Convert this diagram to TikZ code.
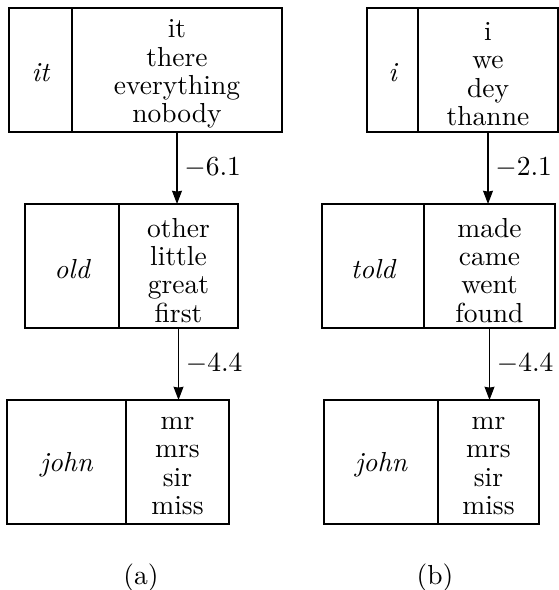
\documentclass[tikz,border=0pt]{standalone}
\usetikzlibrary{arrows.meta}
\begin{document}
\def\px{0.3636pt}
\begin{tikzpicture}[x=0.3636pt,y=-0.3636pt,
  cell/.style={draw, line width=0.4pt, inner sep=0pt, outer sep=0pt, minimum height=124*\px},
  words/.style={align=center, font=\fontsize{10}{10.3}\selectfont, inner sep=0pt, yshift=-1.5pt},
  key/.style={font=\itshape, inner sep=0pt, yshift=-1pt},
  link/.style={-{Stealth[length=4.8pt,width=3.6pt,inset=0.3pt]}, line width=0.4pt},
  weight/.style={midway, anchor=west, inner sep=0pt, xshift=2.5pt},
  caption/.style={inner sep=0pt}]
\useasboundingbox (0,0) rectangle (559,590);
% ---------- (a)
\node[cell, minimum width=63*\px]  (A1k) at (40.5,70) {};
\node[cell, minimum width=210*\px] (A1w) at (177,70) {};
\node[cell, minimum width=94*\px]  (A2k) at (72,266) {};
\node[cell, minimum width=119*\px] (A2w) at (178.5,266) {};
\node[cell, minimum width=119*\px] (A3k) at (66.5,462) {};
\node[cell, minimum width=103*\px] (A3w) at (177.5,462) {};
\node[key]   (A1kt) at (A1k.center) {it};
\node[words] (A1wt) at (A1w.center) {it\\there\\everything\\nobody};
\node[key]   (A2kt) at (A2k.center) {old};
\node[words] (A2wt) at (A2w.center) {other\\little\\great\\first};
\node[key]   (A3kt) at (A3k.center) {john};
\node[words] (A3wt) at (A3w.center) {mr\\mrs\\sir\\miss};
\draw[link] (A1w.south) -- (A1w.south |- A2w.north) node[weight] (A12) {$-6.1$};
\draw[link] (A2w.south) -- (A2w.south |- A3w.north) node[weight] (A23) {$-4.4$};
\node[caption] (capa) at (141,578) {(a)};
% ---------- (b)
\node[cell, minimum width=51*\px]  (B1k) at (392.5,70) {};
\node[cell, minimum width=140*\px] (B1w) at (488,70) {};
\node[cell, minimum width=102*\px] (B2k) at (373,266) {};
\node[cell, minimum width=131*\px] (B2w) at (489.5,266) {};
\node[cell, minimum width=114*\px] (B3k) at (381,462) {};
\node[cell, minimum width=101*\px] (B3w) at (488.5,462) {};
\node[key]   (B1kt) at (B1k.center) {i};
\node[words] (B1wt) at (B1w.center) {i\\we\\dey\\thanne};
\node[key]   (B2kt) at (B2k.center) {told};
\node[words] (B2wt) at (B2w.center) {made\\came\\went\\found};
\node[key]   (B3kt) at (B3k.center) {john};
\node[words] (B3wt) at (B3w.center) {mr\\mrs\\sir\\miss};
\draw[link] (B1w.south) -- (B1w.south |- B2w.north) node[weight] (B12) {$-2.1$};
\draw[link] (B2w.south) -- (B2w.south |- B3w.north) node[weight] (B23) {$-4.4$};
\node[caption] (capb) at (435,578) {(b)};
\end{tikzpicture}
\end{document}
